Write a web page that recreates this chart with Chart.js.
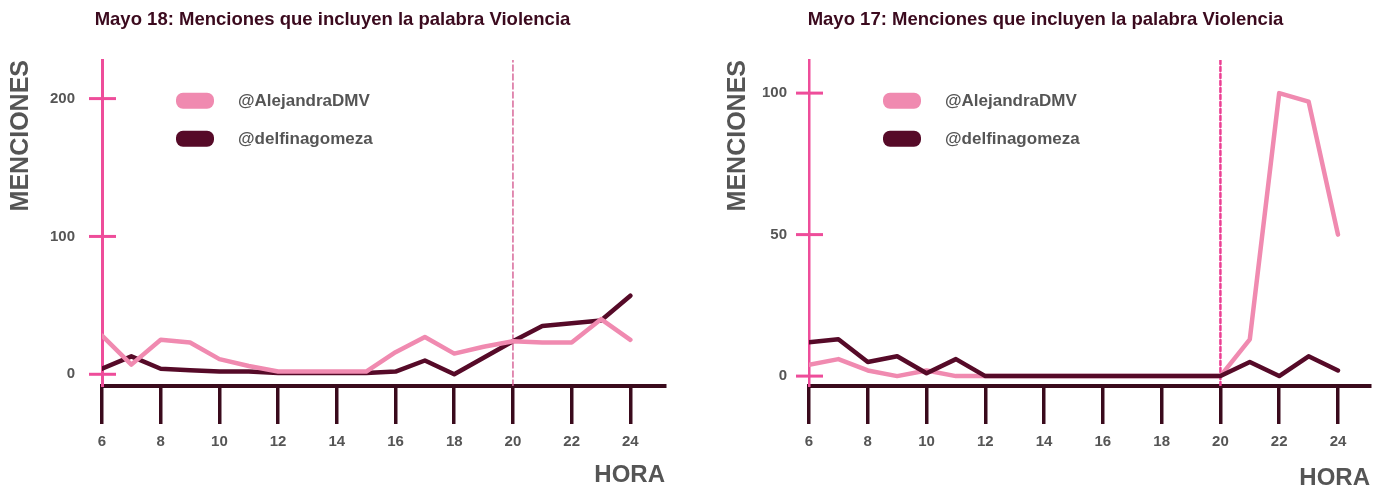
<!DOCTYPE html>
<html><head><meta charset="utf-8">
<script src="https://cdn.jsdelivr.net/npm/chart.js@4/dist/chart.umd.min.js"></script>
<style>
html,body{margin:0;padding:0;background:#fff;}
#wrap{position:relative;width:1382px;height:493px;overflow:hidden;}
canvas{position:absolute;top:0;}
#c18{left:0;} #c17{left:691px;}
</style></head><body>
<div id="wrap"><canvas id="c18" width="691" height="493"></canvas><canvas id="c17" width="691" height="493"></canvas></div>
<script>
// ---- data ----
const hours = [6,7,8,9,10,11,12,13,14,15,16,17,18,19,20,21,22,23,24];
const xTicks = [6,8,10,12,14,16,18,20,22,24];
const seriesNames = ['@AlejandraDMV','@delfinagomeza'];
const markerHour = 20;

const may18Title = 'Mayo 18: Menciones que incluyen la palabra Violencia';
const may18Alejandra = [28,7,25,23,11,6,2,2,2,2,16,27,15,20,24,23,23,40,25];
const may18Delfina   = [4,13,4,3,2,2,1,1,1,1,2,10,0,12,24,35,37,39,57];
const may18YTicks = [0,100,200];

const may17Title = 'Mayo 17: Menciones que incluyen la palabra Violencia';
const may17Alejandra = [4,6,2,0,2,0,0,0,0,0,0,0,0,0,0,13,100,97,50];
const may17Delfina   = [12,13,5,7,1,6,0,0,0,0,0,0,0,0,0,5,0,7,2];
const may17YTicks = [0,50,100];

// ---- styles ----
const PINK = '#f08ab0';
const DARK = '#560a28';
const AXIS_PINK = '#ee4d9a';
const AXIS_DARK = '#3a0a1c';
const GREY = '#555555';
const FAMILY = "'Liberation Sans', Arial, sans-serif";
Chart.defaults.font.family = FAMILY;

const tickCross = {
  id: 'tickCross',
  afterDraw(chart, args, o) {
    const y = chart.scales.y, ctx = chart.ctx, x0 = chart.chartArea.left;
    ctx.save();
    ctx.strokeStyle = o.color; ctx.lineWidth = o.width;
    y.ticks.forEach(t => {
      const py = y.getPixelForValue(t.value);
      ctx.beginPath(); ctx.moveTo(x0 - o.left, py); ctx.lineTo(x0 + o.right, py); ctx.stroke();
    });
    ctx.restore();
  }
};

const boxLegend = {
  id: 'boxLegend',
  afterDraw(chart, args, o) {
    const ctx = chart.ctx, a = chart.chartArea;
    ctx.save();
    ctx.font = o.font; ctx.textBaseline = 'middle'; ctx.textAlign = 'left';
    chart.data.datasets.filter(d => d.label).forEach((d, i) => {
      const bx = a.left + o.x, by = a.top + o.y + i * o.gap;
      ctx.fillStyle = d.borderColor;
      ctx.beginPath(); ctx.roundRect(bx, by, o.w, o.h, o.r); ctx.fill();
      ctx.fillStyle = o.color;
      ctx.fillText(d.label, bx + o.textX, by + o.h / 2 + 1);
    });
    ctx.restore();
  }
};

function makeChart(id, c) {
  const pts = arr => hours.map((h, i) => ({x: h, y: arr[i]}));
  return new Chart(document.getElementById(id), {
    type: 'line',
    data: {
      datasets: [
        {label: seriesNames[0], data: pts(c.ale), borderColor: PINK, borderWidth: 4.5, order: c.aleOrder},
        {label: seriesNames[1], data: pts(c.del), borderColor: DARK, borderWidth: 4.5, order: c.delOrder},
        {data: [{x: markerHour, y: c.yMin}, {x: markerHour, y: c.yMax}], borderColor: c.dashColor,
         borderWidth: c.dashWidth, borderDash: c.dash, order: 5}
      ]
    },
    options: {
      responsive: false, animation: false, devicePixelRatio: 1,
      layout: {padding: {left: c.padLeft, right: c.padRight, top: 0, bottom: 0}},
      elements: {point: {radius: 0}, line: {tension: 0, borderJoinStyle: 'round', borderCapStyle: 'round'}},
      plugins: {
        legend: {display: false}, tooltip: {enabled: false},
        title: {display: true, text: c.title, color: '#3b0a1e',
                font: {size: 18.5, weight: 'bold'}, padding: {top: 9, bottom: 28.8}},
        tickCross: {color: AXIS_PINK, width: 3, left: 13, right: 14},
        boxLegend: {font: "bold 17px " + FAMILY, color: GREY, x: 74, y: 32.7, gap: 38, w: 38, h: 16, r: 7, textX: 62}
      },
      scales: {
        x: {
          type: 'linear', min: 6, max: c.xMax,
          afterBuildTicks: s => { s.ticks = xTicks.map(v => ({value: v})); },
          afterFit: s => { s.height = 107; },
          border: {color: AXIS_DARK, width: 4},
          grid: {drawOnChartArea: false, drawTicks: true, tickLength: 38, color: AXIS_DARK, lineWidth: 3.5},
          ticks: {padding: 9, color: GREY, font: {size: 15, weight: 'bold'}, maxRotation: 0, autoSkip: false},
          title: {display: true, text: 'HORA', align: 'end', color: GREY,
                  font: {size: 24, weight: 'bold'}, padding: {top: 0, bottom: c.horaPad}}
        },
        y: {
          min: c.yMin, max: c.yMax,
          afterBuildTicks: s => { s.ticks = c.yTicks.map(v => ({value: v})); },
          afterFit: s => { s.width = c.yWidth; },
          border: {color: AXIS_PINK, width: c.yAxisWidth},
          grid: {drawOnChartArea: false, drawTicks: false},
          ticks: {padding: c.yLabelPad, color: GREY, font: {size: 15, weight: 'bold'}},
          title: {display: true, text: 'MENCIONES', align: 'end', color: GREY,
                  font: {size: 25, weight: 'bold'}, padding: {top: c.menPad, bottom: 0}}
        }
      }
    },
    plugins: [tickCross, boxLegend]
  });
}

makeChart('c18', {
  title: may18Title, ale: may18Alejandra, del: may18Delfina, yTicks: may18YTicks,
  yMin: -8.5, yMax: 228, xMax: 25.18, padLeft: 0, padRight: 26, yWidth: 102, yAxisWidth: 3,
  yLabelPad: 27, menPad: 6, horaPad: 3.6, aleOrder: 0, delOrder: 1,
  dashColor: '#d8689a', dashWidth: 1.5, dash: [6, 3]
});
makeChart('c17', {
  title: may17Title, ale: may17Alejandra, del: may17Delfina, yTicks: may17YTicks,
  yMin: -3.5, yMax: 111.7, xMax: 25.09, padLeft: 30, padRight: 12, yWidth: 88, yAxisWidth: 2.5,
  yLabelPad: 22, menPad: 2, horaPad: 0, aleOrder: 1, delOrder: 0,
  dashColor: '#ec3f93', dashWidth: 2.5, dash: [4, 3]
});
</script>
</body></html>
